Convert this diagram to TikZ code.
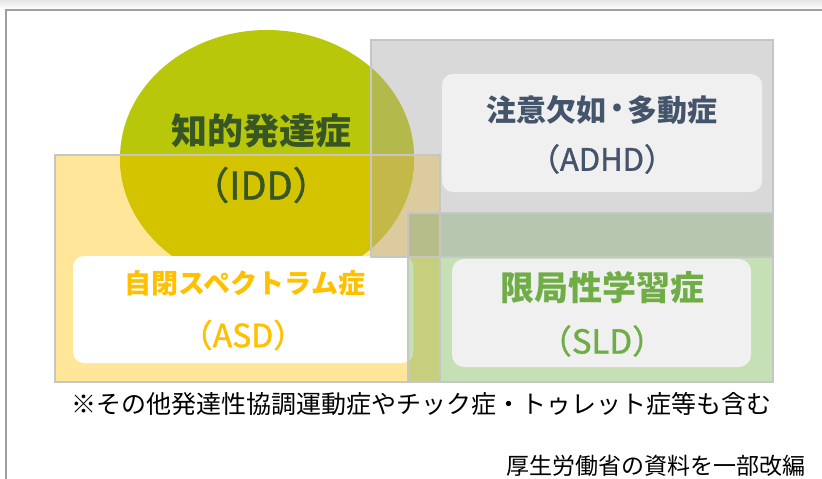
\documentclass[tikz,border=0pt]{standalone}
\usepackage{fontspec}
\newfontfamily\jp{Noto Sans CJK JP}
\newfontfamily\jpm{Noto Sans CJK JP}[FakeBold=1.2]
\definecolor{lime}{HTML}{B9C70B}
\definecolor{yel}{HTML}{FFE699}
\definecolor{gry}{HTML}{D9D9D9}
\definecolor{grn}{HTML}{C5E0B4}
\definecolor{limeyel}{HTML}{D4C400}
\definecolor{limegry}{HTML}{B3B94B}
\definecolor{limegryyel}{HTML}{C3B848}
\definecolor{gryyel}{HTML}{DCCB9F}
\definecolor{grygrn}{HTML}{B7C7AF}
\definecolor{grnyel}{HTML}{C6CF7E}
\definecolor{grygrnyel}{HTML}{B6BC8A}
\definecolor{boxgray}{HTML}{F0F0F0}
\definecolor{edge}{HTML}{C6C6C6}
\definecolor{framec}{HTML}{A0A0A0}
\definecolor{iddc}{HTML}{375623}
\definecolor{adhdc}{HTML}{44546A}
\definecolor{asdc}{HTML}{FFC000}
\definecolor{sldc}{HTML}{70AD47}
\tikzset{
  areaedge/.style={draw=edge, line width=1.4pt},
  lbl/.style={inner sep=0pt},
}
\begin{document}
\begin{tikzpicture}[x=1pt,y=-1pt]
\useasboundingbox (0,0) rectangle (822,479);
% top shadow and frame
\shade[top color=black!10, bottom color=white] (0,0) rectangle (822,9);
\coordinate (F1) at (6,479);
\coordinate (F2) at (6,10);
\coordinate (F3) at (822,10);
\draw[framec, line width=1.3pt] (F1) -- (F2) -- (F3);
% area corners
\coordinate (Y1) at (55,155);  \coordinate (Y2) at (440,382);
\coordinate (G1) at (371,40);  \coordinate (G2) at (773,257);
\coordinate (N1) at (408,213); \coordinate (N2) at (773,382);
\coordinate (E) at (267,158);
% base fills
\fill[yel] (Y1) rectangle (Y2);
\fill[gry] (G1) rectangle (G2);
\fill[grn] (N1) rectangle (N2);
\begin{scope}
  \clip (Y1) rectangle (Y2);
  \fill[gryyel] (G1) rectangle (G2);
  \fill[grnyel] (N1) rectangle (N2);
\end{scope}
\begin{scope}
  \clip (G1) rectangle (G2);
  \fill[grygrn] (N1) rectangle (N2);
\end{scope}
\begin{scope}
  \clip (Y1) rectangle (Y2);
  \clip (G1) rectangle (G2);
  \fill[grygrnyel] (N1) rectangle (N2);
\end{scope}
% ellipse
\fill[lime] (E) ellipse [x radius=147pt, y radius=128pt];
\begin{scope}
  \clip (Y1) rectangle (Y2);
  \fill[limeyel] (E) ellipse [x radius=147pt, y radius=128pt];
\end{scope}
\begin{scope}
  \clip (G1) rectangle (G2);
  \fill[limegry] (E) ellipse [x radius=147pt, y radius=128pt];
\end{scope}
\begin{scope}
  \clip (Y1) rectangle (Y2);
  \clip (G1) rectangle (G2);
  \fill[limegryyel] (E) ellipse [x radius=147pt, y radius=128pt];
\end{scope}
% inner boxes
\coordinate (A1) at (73,256);  \coordinate (A2) at (413,363);
\coordinate (H1) at (442,74);  \coordinate (H2) at (762,192);
\coordinate (S1) at (452,259); \coordinate (S2) at (751,367);
\fill[white, rounded corners=11pt] (A1) rectangle (A2);
\begin{scope}
  \clip[rounded corners=11pt] (A1) rectangle (A2);
  \fill[grn] (N1) rectangle (N2);
\end{scope}
\fill[boxgray, rounded corners=11pt] (H1) rectangle (H2);
\fill[boxgray, rounded corners=12pt] (S1) rectangle (S2);
% edges
\draw[areaedge] (Y1) rectangle (Y2);
\draw[areaedge] (G1) rectangle (G2);
\draw[areaedge] (N1) rectangle (N2);
% labels
\node[lbl, text=iddc, font=\jp\bfseries\fontsize{36}{40}\selectfont] (idd1) at (261,131) {知的発達症};
\node[lbl, text=iddc, font=\jpm\fontsize{38}{40}\selectfont] (idd2) at (261,185) {（IDD）};
\node[lbl, text=adhdc, font=\jp\bfseries\fontsize{30}{34}\selectfont] (adhd1) at (602,110) {注意欠如{\fontsize{36}{36}\selectfont·}多動症};
\node[lbl, text=adhdc, font=\jpm\fontsize{31}{34}\selectfont] (adhd2) at (602,159) {（ADHD）};
\node[lbl, text=asdc, font=\jp\bfseries\fontsize{27}{30}\selectfont] (asd1) at (245,283) {自閉スペクトラム症};
\node[lbl, text=asdc, font=\jpm\fontsize{32}{34}\selectfont] (asd2) at (243,335) {（ASD）};
\node[lbl, text=sldc, font=\jp\bfseries\fontsize{34}{36}\selectfont] (sld1) at (602,288) {限局性学習症};
\node[lbl, text=sldc, font=\jpm\fontsize{33}{36}\selectfont] (sld2) at (602,341) {（SLD）};
\node[inner sep=0pt, font=\jp\fontsize{25}{28}\selectfont] (note) at (421,404) {※その他発達性協調運動症やチック症・トゥレット症等も含む};
\node[inner sep=0pt, font=\jp\fontsize{23}{26}\selectfont] (src) at (656,466) {厚生労働省の資料を一部改編};
\end{tikzpicture}
\end{document}
